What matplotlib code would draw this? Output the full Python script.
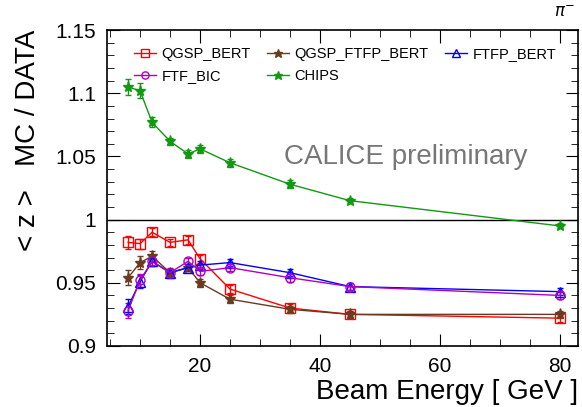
import matplotlib
matplotlib.use("Agg")
import matplotlib.pyplot as plt
from matplotlib.ticker import MultipleLocator
import numpy as np

plt.rcParams['font.family'] = ['Liberation Sans', 'DejaVu Sans']

energy = [8, 10, 12, 15, 18, 20, 25, 35, 45, 80]

qgsp_bert = [0.982, 0.981, 0.990, 0.982, 0.984, 0.969, 0.945, 0.930, 0.925, 0.922]
qgsp_bert_err = [0.005, 0.004, 0.003, 0.003, 0.003, 0.003, 0.003, 0.003, 0.003, 0.003]

qgsp_ftfp_bert = [0.954, 0.966, 0.971, 0.958, 0.962, 0.950, 0.937, 0.929, 0.925, 0.925]
qgsp_ftfp_bert_err = [0.006, 0.005, 0.004, 0.003, 0.003, 0.003, 0.003, 0.003, 0.003, 0.003]

ftfp_bert = [0.931, 0.951, 0.967, 0.958, 0.962, 0.964, 0.966, 0.958, 0.947, 0.943]
ftfp_bert_err = [0.006, 0.005, 0.004, 0.003, 0.003, 0.003, 0.003, 0.003, 0.003, 0.003]

ftf_bic = [0.928, 0.952, 0.967, 0.958, 0.967, 0.959, 0.962, 0.954, 0.947, 0.940]
ftf_bic_err = [0.006, 0.005, 0.004, 0.004, 0.003, 0.003, 0.003, 0.003, 0.003, 0.003]

chips = [1.105, 1.102, 1.077, 1.062, 1.052, 1.056, 1.045, 1.028, 1.015, 0.995]
chips_err = [0.006, 0.006, 0.004, 0.003, 0.003, 0.003, 0.003, 0.003, 0.002, 0.002]

fig = plt.figure(figsize=(5.82, 4.07), dpi=100)
ax = fig.add_axes([0.184, 0.150, 0.809, 0.776])

series = [
    ("QGSP_BERT", qgsp_bert, qgsp_bert_err, "#ff0000", "s", "none", 6.5),
    ("QGSP_FTFP_BERT", qgsp_ftfp_bert, qgsp_ftfp_bert_err, "#6b3a1f", "*", "#6b3a1f", 8),
    ("FTFP_BERT", ftfp_bert, ftfp_bert_err, "#0000ff", "^", "none", 6.5),
    ("FTF_BIC", ftf_bic, ftf_bic_err, "#b000c0", "o", "none", 6.5),
    ("CHIPS", chips, chips_err, "#119911", "*", "#119911", 8),
]

handles = {}
for name, vals, errs, col, mk, mfc, ms in series:
    cont = ax.errorbar(energy, vals, yerr=errs, color=col, marker=mk, mfc=mfc, mec=col,
                       ms=ms, lw=1, elinewidth=1, capsize=2.5, capthick=1, label=name)
    handles[name] = cont[0]

ax.axhline(1.0, color="black", lw=1)

ax.set_xlim(4.5, 83)
ax.set_ylim(0.9, 1.15)
ax.xaxis.set_major_locator(MultipleLocator(20))
ax.xaxis.set_minor_locator(MultipleLocator(5))
ax.yaxis.set_minor_locator(MultipleLocator(0.01))
ax.set_yticks([0.9, 0.95, 1.0, 1.05, 1.1, 1.15])
ax.set_yticklabels(["0.9", "0.95", "1", "1.05", "1.1", "1.15"])
ax.tick_params(which="both", direction="in", top=True, right=True, labelsize=15)
ax.tick_params(which="major", length=9, pad=8)
ax.tick_params(which="minor", length=5)
for s in ax.spines.values():
    s.set_linewidth(1.2)

ax.set_xlabel("Beam Energy [ GeV ]", fontsize=20, loc="right", labelpad=2)
ax.set_ylabel("< z >   MC / DATA", fontsize=20, loc="top", labelpad=10)

ax.text(0.376, 0.598, "CALICE preliminary", transform=ax.transAxes, fontsize=20,
        color="#777777", va="center")
fig.text(0.988, 0.97, "$\\pi^{-}$", ha="right", va="center", fontsize=12)

order = ["QGSP_BERT", "FTF_BIC", "QGSP_FTFP_BERT", "CHIPS", "FTFP_BERT"]
ax.legend([handles[n] for n in order], order, loc="upper left", ncol=3,
          frameon=False, fontsize=10.5, bbox_to_anchor=(0.035, 0.98),
          handlelength=1.5, handletextpad=0.4, columnspacing=1.1,
          labelspacing=0.6, numpoints=1, borderpad=0.2, markerscale=0.8)

fig.savefig("out.png", dpi=100)
